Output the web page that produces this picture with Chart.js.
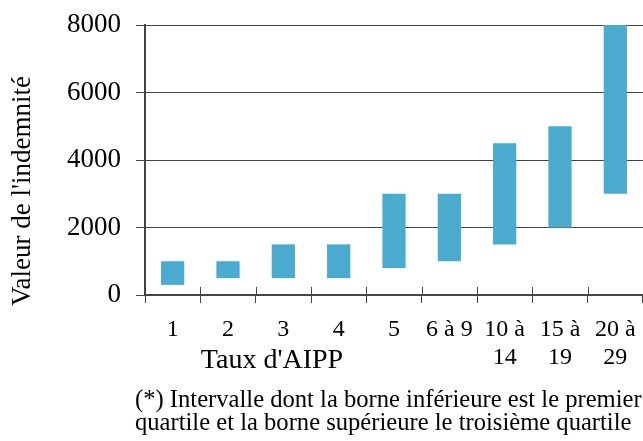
<!DOCTYPE html>
<html><head><meta charset="utf-8">
<script src="https://cdn.jsdelivr.net/npm/chart.js@4"></script>
<style>html,body{margin:0;padding:0;background:#fff;overflow:hidden}</style>
</head><body>
<canvas id="c" width="643" height="441"></canvas>
<script>
const categories = [['1'], ['2'], ['3'], ['4'], ['5'], ['6 à 9'], ['10 à', '14'], ['15 à', '19'], ['20 à', '29']];
const firstQuartile = [300, 500, 500, 500, 800, 1000, 1500, 2000, 3000];
const thirdQuartile = [1000, 1000, 1500, 1500, 3000, 3000, 4500, 5000, 8000];
const yTicks = [0, 2000, 4000, 6000, 8000];
const yTitle = "Valeur de l'indemnité";
const xTitle = "Taux d'AIPP";
const footnote = ["(*) Intervalle dont la borne inférieure est le premier", "quartile et la borne supérieure le troisième quartile"];

const F = "'Liberation Serif', 'Times New Roman', serif";
const AXIS = '#444';

const textPlugin = {
  id: 'texts',
  afterDraw(chart) {
    const ctx = chart.ctx;
    const xs = chart.scales.x;
    ctx.save();
    // upper part of x tick marks
    ctx.strokeStyle = AXIS; ctx.lineWidth = 1;
    for (let i = 1; i < categories.length; i++) {
      const px = Math.round(xs.getPixelForValue(i - 0.5)) + 0.5;
      ctx.beginPath(); ctx.moveTo(px, xs.top - 8); ctx.lineTo(px, xs.top); ctx.stroke();
    }
    ctx.fillStyle = '#000';
    // y title
    ctx.save();
    ctx.translate(23, 191);
    ctx.rotate(-Math.PI / 2);
    ctx.font = "27px " + F;
    ctx.textAlign = 'center'; ctx.textBaseline = 'middle';
    ctx.fillText(yTitle, 0, 0);
    ctx.restore();
    // x title
    ctx.font = "28px " + F;
    ctx.textAlign = 'center'; ctx.textBaseline = 'alphabetic';
    ctx.fillText(xTitle, 272, 368);
    // footnote
    ctx.font = "24.6px " + F;
    ctx.textAlign = 'left';
    ctx.fillText(footnote[0], 135, 407);
    ctx.fillText(footnote[1], 135, 430);
    ctx.restore();
  }
};

new Chart(document.getElementById('c'), {
  type: 'bar',
  data: {
    labels: categories,
    datasets: [{
      data: firstQuartile.map((v, i) => [v, thirdQuartile[i]]),
      backgroundColor: '#4AABCF',
      borderWidth: 0,
      categoryPercentage: 1,
      barPercentage: 0.42
    }]
  },
  options: {
    responsive: false,
    animation: false,
    events: [],
    layout: { padding: { top: 25, left: 0, right: 0, bottom: 0 } },
    plugins: { legend: { display: false }, tooltip: { enabled: false } },
    scales: {
      x: {
        ticks: { color: '#000', font: { family: F, size: 24, lineHeight: 1.17 }, padding: 13, maxRotation: 0, autoSkip: false },
        grid: { display: true, drawOnChartArea: false, tickLength: 8, color: AXIS, offset: true },
        border: { display: true, color: AXIS, width: 2 },
        afterFit(s) { s.height = 146; s.paddingLeft = 0; s.paddingRight = 0; s.paddingTop = 0; s.paddingBottom = 0; }
      },
      y: {
        min: 0, max: 8000,
        afterBuildTicks(s) { s.ticks = yTicks.map(v => ({ value: v })); },
        ticks: { color: '#000', font: { family: F, size: 27 }, padding: 15, callback: v => String(v) },
        grid: { color: AXIS, lineWidth: 1, tickLength: 9, drawTicks: true },
        border: { display: true, color: AXIS, width: 2 },
        afterFit(s) { s.width = 145; s.paddingLeft = 0; s.paddingRight = 0; s.paddingTop = 0; s.paddingBottom = 0; }
      }
    }
  },
  plugins: [textPlugin]
});
</script>
</body></html>
